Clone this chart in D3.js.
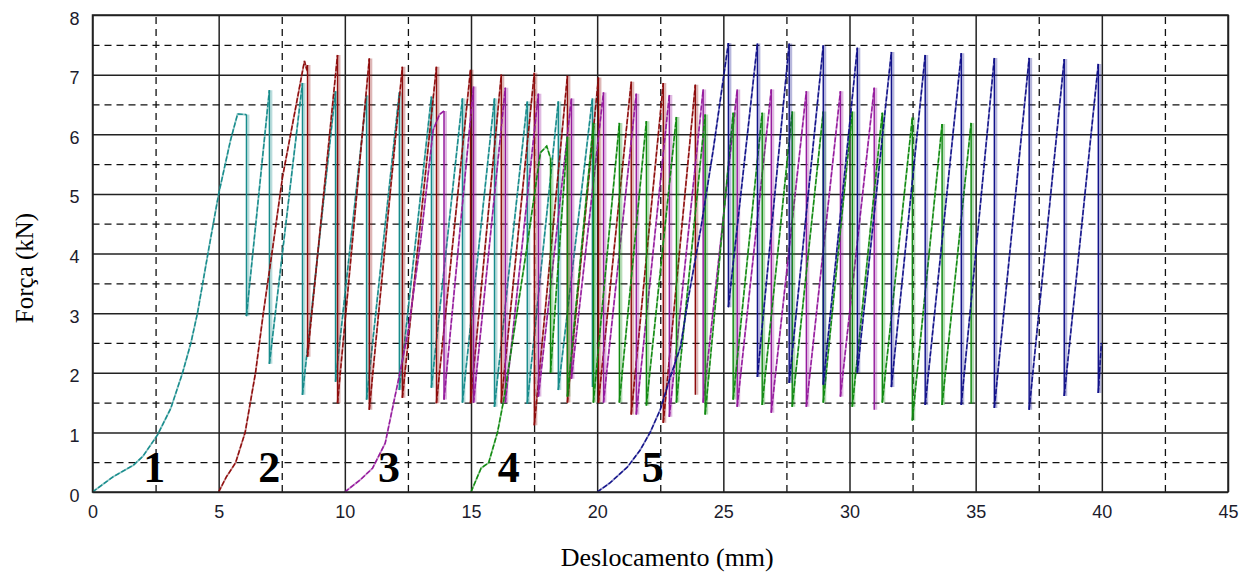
<!DOCTYPE html>
<html>
<head>
<meta charset="utf-8">
<script src="https://cdn.jsdelivr.net/npm/d3@7"></script>
<style>
  body { margin: 0; background: #fff; }
</style>
</head>
<body>
<svg id="chart" width="1256" height="573"></svg>
<script>
// ---- Axis ticks ----
const xMajorTicks = [0, 5, 10, 15, 20, 25, 30, 35, 40, 45];
const xMinorTicks = [2.5, 7.5, 12.5, 17.5, 22.5, 27.5, 32.5, 37.5, 42.5];
const yMajorTicks = [0, 1, 2, 3, 4, 5, 6, 7, 8];
const yMinorTicks = [0.5, 1.5, 2.5, 3.5, 4.5, 5.5, 6.5, 7.5];

// ---- Test labels ----
const testNames = ["1", "2", "3", "4", "5"];
const testLabelX = [2.45, 7.0, 11.75, 16.5, 22.2];
const testColors = ["#178c8c", "#8e0c0c", "#951a9d", "#108a10", "#12128a"];

// ---- Test 1: first loading branch [mm, kN] then saw-tooth peaks/troughs ----
const t1Init = [[0, 0], [0.8, 0.25], [1.62, 0.45], [2.0, 0.6], [2.58, 0.96], [3.1, 1.4], [3.57, 2.0],
  [3.9, 2.5], [4.16, 3.0], [4.6, 4.06], [5.0, 5.0], [5.47, 5.9], [5.75, 6.34], [6.1, 6.33]];
const t1PeakX = [6.1, 7.01, 8.32, 9.63, 10.86, 12.16, 13.43, 14.66, 15.93, 17.23, 18.46, 19.81];
const t1PeakY = [6.33, 6.74, 6.86, 6.72, 6.65, 6.70, 6.63, 6.60, 6.60, 6.55, 6.55, 6.60];
const t1Trough = [2.95, 2.15, 1.63, 1.85, 1.55, 1.71, 1.75, 1.50, 1.43, 1.48, 1.71, 1.76];

// ---- Test 2 ----
const t2Init = [[5, 0], [5.3, 0.25], [5.67, 0.49], [6.05, 1.0], [6.46, 2.0], [6.77, 3.0], [7.13, 4.06],
  [7.53, 5.28], [8.12, 6.6], [8.4, 7.23], [8.48, 7.1], [8.52, 7.16]];
const t2PeakX = [8.52, 9.71, 10.97, 12.28, 13.63, 14.98, 16.2, 17.51, 18.82, 20.05, 21.35, 22.62, 23.89];
const t2PeakY = [7.16, 7.33, 7.27, 7.13, 7.13, 7.08, 7.0, 7.03, 6.98, 6.95, 6.88, 6.86, 6.83];
const t2Trough = [2.27, 1.49, 1.38, 1.58, 1.49, 1.49, 1.5, 1.12, 1.5, 1.5, 1.3, 1.16, 1.63];

// ---- Test 3 ----
const t3Init = [[10, 0], [10.6, 0.2], [11.1, 0.4], [11.6, 0.82], [12.1, 1.83], [12.5, 2.67], [13.0, 4.2],
  [13.5, 6.07], [13.75, 6.33], [13.93, 6.39]];
const t3PeakX = [13.93, 15.1, 16.36, 17.67, 18.98, 20.25, 21.55, 22.86, 24.2, 25.55, 26.9, 28.29, 29.64, 30.98];
const t3PeakY = [6.39, 6.8, 6.78, 6.68, 6.6, 6.7, 6.68, 6.66, 6.75, 6.75, 6.75, 6.72, 6.72, 6.78];
const t3Trough = [1.55, 1.5, 1.5, 1.6, 1.9, 1.5, 1.3, 1.26, 1.5, 1.43, 1.33, 1.43, 1.6, 1.38];

// ---- Test 4 ----
const t4Init = [[15, 0], [15.4, 0.4], [15.7, 0.49], [16.05, 1.0], [16.3, 1.55], [16.7, 2.67], [17.2, 4.06],
  [17.75, 5.69], [18.0, 5.8], [18.15, 5.6]];
const t4PeakX = [18.15, 18.82, 19.85, 20.88, 21.95, 23.14, 24.28, 25.39, 26.54, 27.73, 28.96, 30.11, 31.3, 32.49, 33.67, 34.82];
const t4PeakY = [5.6, 5.96, 6.19, 6.19, 6.22, 6.29, 6.33, 6.36, 6.36, 6.38, 6.38, 6.38, 6.36, 6.28, 6.17, 6.19];
const t4Trough = [2.0, 1.6, 1.5, 1.5, 1.45, 1.5, 1.3, 1.55, 1.46, 1.43, 1.5, 1.43, 1.5, 1.2, 1.46, 1.48];

// ---- Test 5 ----
const t5Init = [[20, 0], [20.5, 0.15], [21.2, 0.42], [21.7, 0.7], [22.1, 1.0], [22.5, 1.38], [22.9, 1.93],
  [23.3, 2.43], [23.6, 3.22], [24.1, 4.4], [24.6, 5.74], [25.2, 7.53]];
const t5PeakX = [25.2, 26.35, 27.61, 28.96, 30.31, 31.66, 33.0, 34.43, 35.74, 37.12, 38.51, 39.86];
const t5PeakY = [7.53, 7.52, 7.52, 7.49, 7.45, 7.38, 7.33, 7.36, 7.28, 7.28, 7.26, 7.18];
const t5Trough = [3.1, 1.93, 1.83, 1.8, 2.0, 1.76, 1.46, 1.46, 1.41, 1.38, 1.61, 1.66];
const t5Tail = [[39.98, 2.5]];

const tests = [
  { init: t1Init, px: t1PeakX, py: t1PeakY, tr: t1Trough, tail: [] },
  { init: t2Init, px: t2PeakX, py: t2PeakY, tr: t2Trough, tail: [] },
  { init: t3Init, px: t3PeakX, py: t3PeakY, tr: t3Trough, tail: [] },
  { init: t4Init, px: t4PeakX, py: t4PeakY, tr: t4Trough, tail: [] },
  { init: t5Init, px: t5PeakX, py: t5PeakY, tr: t5Trough, tail: t5Tail }
];

// ---- Layout ----
const svg = d3.select("#chart");
const plotL = 92.5, plotR = 1228, plotT = 15, plotB = 492;
const x = d3.scaleLinear().domain([0, 45]).range([plotL, plotR]);
const y = d3.scaleLinear().domain([0, 8]).range([plotB, plotT]);

// Grid: dashed at half steps, solid at main steps
const grid = svg.append("g");
grid.append("g")
  .attr("transform", `translate(0,${plotB})`)
  .call(d3.axisBottom(x).tickValues(xMinorTicks).tickSize(-(plotB - plotT)).tickFormat(""))
  .call(g => g.select(".domain").remove())
  .call(g => g.selectAll("line").attr("stroke", "#111").attr("stroke-width", 1.3).attr("stroke-dasharray", "7,5"));
grid.append("g")
  .attr("transform", `translate(${plotL},0)`)
  .call(d3.axisLeft(y).tickValues(yMinorTicks).tickSize(-(plotR - plotL)).tickFormat(""))
  .call(g => g.select(".domain").remove())
  .call(g => g.selectAll("line").attr("stroke", "#111").attr("stroke-width", 1.3).attr("stroke-dasharray", "7,5"));
grid.append("g")
  .attr("transform", `translate(0,${plotB})`)
  .call(d3.axisBottom(x).tickValues(xMajorTicks).tickSize(-(plotB - plotT)).tickFormat(""))
  .call(g => g.select(".domain").remove())
  .call(g => g.selectAll("line").attr("stroke", "#222").attr("stroke-width", 1.5));
grid.append("g")
  .attr("transform", `translate(${plotL},0)`)
  .call(d3.axisLeft(y).tickValues(yMajorTicks).tickSize(-(plotR - plotL)).tickFormat(""))
  .call(g => g.select(".domain").remove())
  .call(g => g.selectAll("line").attr("stroke", "#222").attr("stroke-width", 1.5));

// Curves
const line = d3.line().x(d => x(d[0])).y(d => y(d[1]));
const plot = svg.append("g");

tests.forEach((t, i) => {
  const c = testColors[i];
  const loadSegs = [t.init];
  const dropSegs = [];
  t.px.forEach((px, k) => {
    dropSegs.push([[px, t.py[k]], [px, t.tr[k]]]);
    if (k + 1 < t.px.length) {
      loadSegs.push([[px, t.tr[k]], [t.px[k + 1], t.py[k + 1]]]);
    }
  });
  if (t.tail.length) {
    const last = t.px.length - 1;
    loadSegs.push([[t.px[last], t.tr[last]], ...t.tail]);
  }
  const g = plot.append("g");
  // unloading drops: soft band plus thin core
  g.selectAll(".dropBand").data(dropSegs).join("path")
    .attr("d", line).attr("fill", "none")
    .attr("stroke", c).attr("stroke-opacity", 0.3).attr("stroke-width", 3.4)
    .attr("transform", "translate(1.3,0)");
  g.selectAll(".drop").data(dropSegs).join("path")
    .attr("d", line).attr("fill", "none")
    .attr("stroke", c).attr("stroke-width", 1.4);
  // loading branches: light trace plus dashed core
  g.selectAll(".loadBase").data(loadSegs).join("path")
    .attr("d", line).attr("fill", "none")
    .attr("stroke", c).attr("stroke-opacity", 0.5).attr("stroke-width", 1.8);
  g.selectAll(".load").data(loadSegs).join("path")
    .attr("d", line).attr("fill", "none")
    .attr("stroke", c).attr("stroke-width", 1.4).attr("stroke-dasharray", "5,2");
});

// Frame
svg.append("rect")
  .attr("x", plotL).attr("y", plotT)
  .attr("width", plotR - plotL).attr("height", plotB - plotT)
  .attr("fill", "none").attr("stroke", "#222").attr("stroke-width", 1.5);

// Tick labels
svg.append("g")
  .attr("transform", `translate(0,${plotB})`)
  .call(d3.axisBottom(x).tickValues(xMajorTicks).tickSize(0).tickPadding(13).tickFormat(d3.format("d")))
  .call(g => g.select(".domain").remove())
  .call(g => g.selectAll("text").attr("font-family", "'Liberation Sans', Arial, sans-serif")
    .attr("font-size", 18).attr("fill", "#1c1c2c"));
svg.append("g")
  .attr("transform", `translate(${plotL},0)`)
  .call(d3.axisLeft(y).tickValues(yMajorTicks).tickSize(0).tickPadding(13).tickFormat(d3.format("d")))
  .call(g => g.select(".domain").remove())
  .call(g => g.selectAll("text").attr("font-family", "'Liberation Sans', Arial, sans-serif")
    .attr("font-size", 18).attr("fill", "#1c1c2c").attr("dy", "0.5em"));

// Test numbers
svg.append("g").selectAll("text").data(testNames).join("text")
  .attr("x", (d, i) => x(testLabelX[i]))
  .attr("y", 482)
  .attr("text-anchor", "middle")
  .attr("font-family", "'Liberation Serif', 'Times New Roman', serif")
  .attr("font-weight", "bold").attr("font-size", 44).attr("fill", "#000")
  .text(d => d);

// Axis titles
svg.append("text")
  .attr("x", (plotL + plotR) / 2 + 7).attr("y", 566)
  .attr("text-anchor", "middle")
  .attr("font-family", "'Liberation Serif', 'Times New Roman', serif")
  .attr("font-size", 26).attr("fill", "#000")
  .text("Deslocamento (mm)");
svg.append("text")
  .attr("transform", "translate(33,268) rotate(-90)")
  .attr("text-anchor", "middle")
  .attr("font-family", "'Liberation Serif', 'Times New Roman', serif")
  .attr("font-size", 25).attr("fill", "#000")
  .text("Força (kN)");
</script>
</body>
</html>
